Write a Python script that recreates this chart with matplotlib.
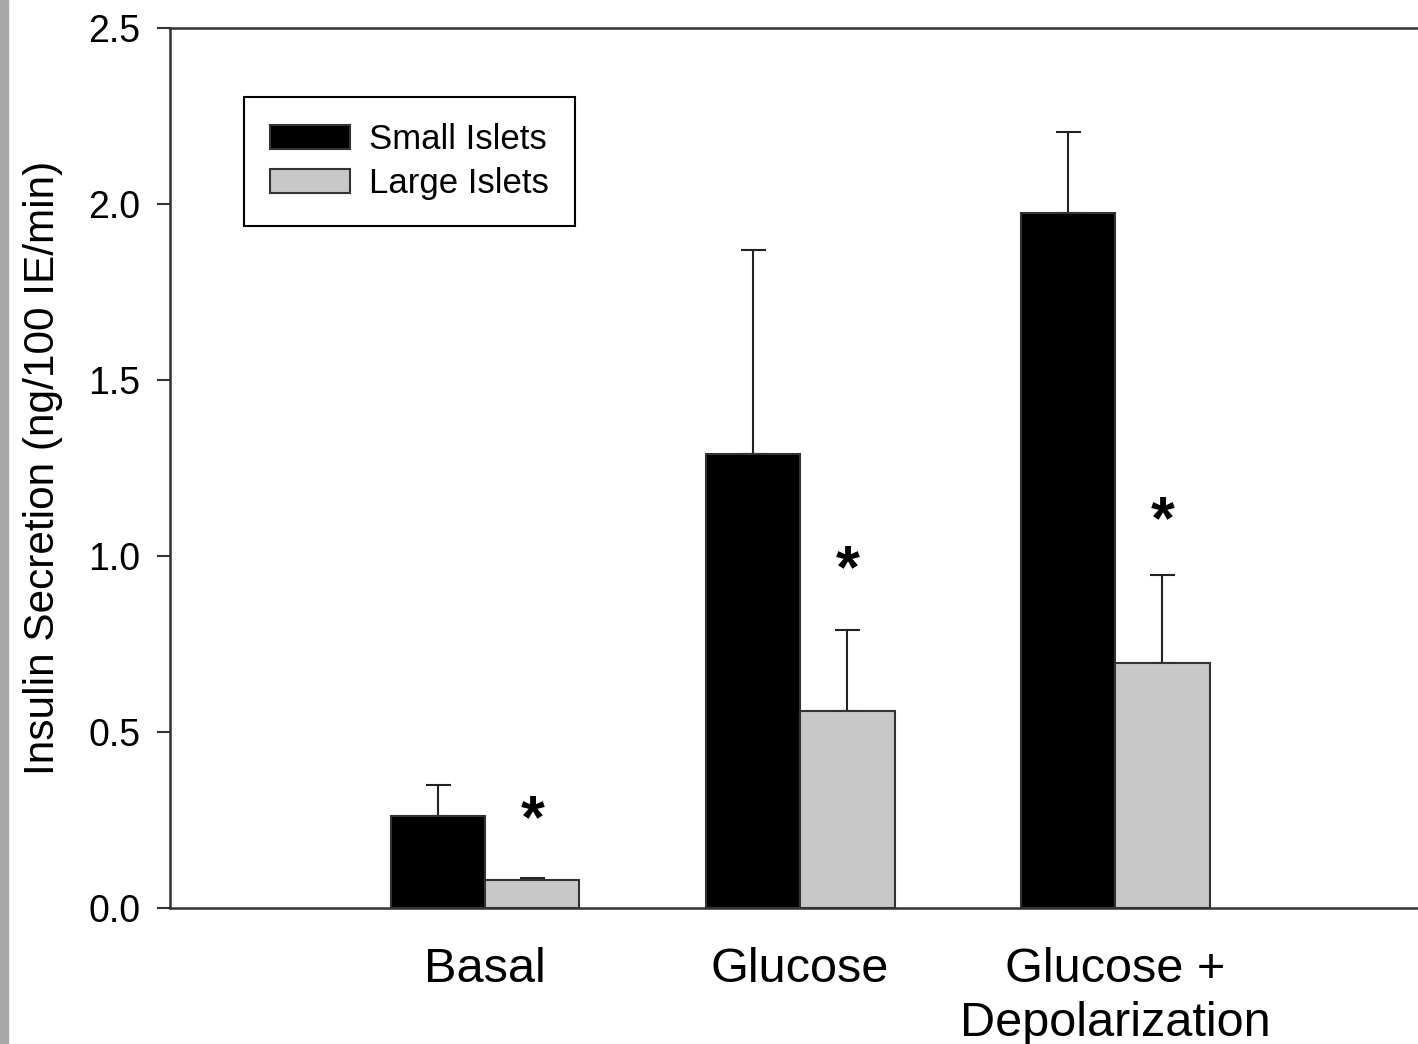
import matplotlib.pyplot as plt
import numpy as np

plt.rcParams['font.family'] = ['Liberation Sans', 'DejaVu Sans']

categories = ['Basal', 'Glucose', 'Glucose +\nDepolarization']
small_islets = [0.26, 1.29, 1.975]
small_err = [0.09, 0.58, 0.23]
large_islets = [0.08, 0.56, 0.695]
large_err = [0.005, 0.23, 0.25]
star_y = [0.245, 0.955, 1.095]

x = np.arange(1, len(categories) + 1)
w = 0.3

fig = plt.figure(figsize=(14.18, 10.44), dpi=100)
# grey strip on the left edge of the slide
fig.patches.append(plt.Rectangle((0, 0), 8 / 1418, 1, transform=fig.transFigure,
                                 color='#a9a9a9', zorder=0))
ax = fig.add_axes([170 / 1418, 136 / 1044, 1 - 170 / 1418, 880 / 1044])

ax.bar(x - w / 2, small_islets, w, color='black', edgecolor='#333333', linewidth=1.5,
       label='Small Islets', zorder=3)
ax.bar(x + w / 2, large_islets, w, color='#c8c8c8', edgecolor='#333333', linewidth=1.5,
       label='Large Islets', zorder=3)
ax.errorbar(x - w / 2, small_islets, yerr=[np.zeros(3), small_err], fmt='none',
            ecolor='#222222', elinewidth=1.5, capsize=9, capthick=1.5, zorder=2)
ax.errorbar(x + w / 2, large_islets, yerr=[np.zeros(3), large_err], fmt='none',
            ecolor='#222222', elinewidth=1.5, capsize=9, capthick=1.5, zorder=2)

for xi, yi in zip(x + w / 2, star_y):
    ax.text(xi, yi, '*', ha='center', va='center', fontsize=44, fontweight='bold')

ax.set_xlim(0, 1248 / 315)
ax.set_ylim(0, 2.5)
ax.set_yticks([0, 0.5, 1.0, 1.5, 2.0, 2.5])
ax.set_yticklabels(['0.0', '0.5', '1.0', '1.5', '2.0', '2.5'])
ax.set_xticks(x)
ax.set_xticklabels(categories, fontsize=35, linespacing=1.25)
ax.tick_params(axis='x', length=0, pad=28)
ax.tick_params(axis='y', direction='out', length=9.5, width=1.5, labelsize=27, pad=12,
               color='#333333')
ax.set_ylabel('Insulin Secretion (ng/100 IE/min)', fontsize=30.5, labelpad=18)

for s in ['left', 'bottom', 'top']:
    ax.spines[s].set_color('#333333')
    ax.spines[s].set_linewidth(1.8)
ax.spines['right'].set_visible(False)

leg = ax.legend(loc='upper left', bbox_to_anchor=(0.0593, 0.9216), borderaxespad=0,
                fontsize=25, fancybox=False, edgecolor='black', framealpha=1,
                handlelength=2.3, handleheight=0.7, handletextpad=0.55,
                borderpad=0.75, labelspacing=0.32)
leg.get_frame().set_linewidth(1.5)

fig.savefig('out.png', dpi=100)
